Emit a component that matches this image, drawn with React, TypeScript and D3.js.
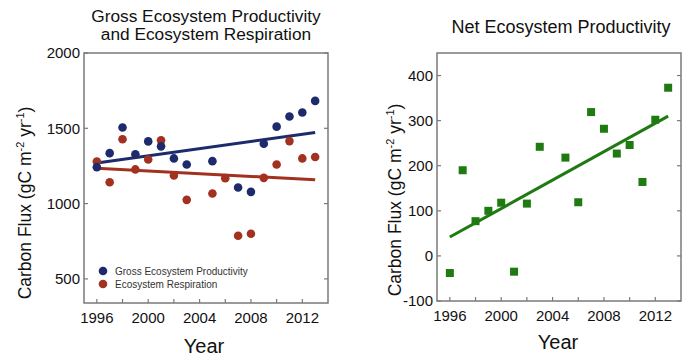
import React from "react";
import * as d3 from "d3";

// values
const gepYears = [1996, 1997, 1998, 1999, 2000, 2001, 2002, 2003, 2005, 2007, 2008, 2009, 2010, 2011, 2012, 2013];
const gepValues = [1242, 1335, 1505, 1327, 1413, 1380, 1300, 1260, 1282, 1107, 1078, 1398, 1511, 1578, 1605, 1682];

const erYears = [1996, 1997, 1998, 1999, 2000, 2001, 2002, 2003, 2005, 2006, 2007, 2008, 2009, 2010, 2011, 2012, 2013];
const erValues = [1280, 1142, 1427, 1227, 1293, 1420, 1187, 1025, 1067, 1169, 787, 800, 1171, 1260, 1415, 1300, 1309];

const nepYears = [1996, 1997, 1998, 1999, 2000, 2001, 2002, 2003, 2005, 2006, 2007, 2008, 2009, 2010, 2011, 2012, 2013];
const nepValues = [-38, 190, 77, 100, 118, -35, 116, 242, 218, 119, 319, 282, 227, 246, 164, 302, 373];

// trend line end points [1996, 2013]
const trendYears = [1996, 2013];
const gepTrend = [1269, 1472];
const erTrend = [1235, 1158];
const nepTrend = [42, 310];

const xTicks = [1996, 2000, 2004, 2008, 2012];
const xMinorTicks = [1996, 1998, 2000, 2002, 2004, 2006, 2008, 2010, 2012];
const leftYTicks = [500, 1000, 1500, 2000];
const rightYTicks = [-100, 0, 100, 200, 300, 400];

const BLUE = "#1d2b6c";
const RED = "#a3311f";
const GREEN = "#1f7a12";
const FRAME = "#7a7a7a";
const FONT = "Arial, 'Liberation Sans', sans-serif";

function Panel({ x0, x1, y0, y1, yDomain, yTicks, children }) {
  const x = d3.scaleLinear().domain([1995, 2014]).range([x0, x1]);
  const y = d3.scaleLinear().domain(yDomain).range([y1, y0]);
  return (
    <g>
      <rect x={x0} y={y0} width={x1 - x0} height={y1 - y0} fill="white" stroke={FRAME} strokeWidth={1.5} />
      {yTicks.map((t) => (
        <g key={"y" + t}>
          <line x1={x0} x2={x0 + 4} y1={y(t)} y2={y(t)} stroke={FRAME} strokeWidth={1.2} />
          <line x1={x1 - 4} x2={x1} y1={y(t)} y2={y(t)} stroke={FRAME} strokeWidth={1.2} />
          <text x={x0 - 4} y={y(t)} dy="0.35em" textAnchor="end" fontSize={15} fontFamily={FONT} fill="#111">
            {t}
          </text>
        </g>
      ))}
      {xMinorTicks.map((t) => (
        <line key={"xm" + t} x1={x(t)} x2={x(t)} y1={y1} y2={y1 - 4} stroke={FRAME} strokeWidth={1.2} />
      ))}
      {xTicks.map((t) => (
        <text key={"x" + t} x={x(t)} y={y1 + 20} textAnchor="middle" fontSize={15} fontFamily={FONT} fill="#111">
          {t}
        </text>
      ))}
      {children(x, y)}
    </g>
  );
}

function YLabel({ cx, cy }) {
  return (
    <text
      transform={`translate(${cx},${cy}) rotate(-90)`}
      textAnchor="middle"
      fontSize={17.5}
      fontFamily={FONT}
      fill="#111"
    >
      Carbon Flux (gC m
      <tspan fontSize={11} dy={-7}>-2</tspan>
      <tspan dy={7}> yr</tspan>
      <tspan fontSize={11} dy={-7}>-1</tspan>
      <tspan dy={7}>)</tspan>
    </text>
  );
}

export default function App() {
  const trendLine = (x, y, vals) =>
    d3.line().x((d, i) => x(trendYears[i])).y((d) => y(d))(vals);

  return (
    <svg width={700} height={363} style={{ position: "absolute", left: 0, top: 0, background: "white" }}>
      {/* left panel */}
      <text x={206} y={21.5} textAnchor="middle" fontSize={17.3} fontFamily={FONT} fill="#111">
        Gross Ecosystem Productivity
      </text>
      <text x={206} y={40} textAnchor="middle" fontSize={17.3} fontFamily={FONT} fill="#111">
        and Ecosystem Respiration
      </text>
      <YLabel cx={31} cy={203} />
      <text x={204} y={353} textAnchor="middle" fontSize={20} fontFamily={FONT} fill="#111">
        Year
      </text>
      <Panel x0={84} x1={328} y0={53} y1={303} yDomain={[340, 2000]} yTicks={leftYTicks}>
        {(x, y) => (
          <g>
            <path d={trendLine(x, y, gepTrend)} stroke={BLUE} strokeWidth={3} fill="none" />
            <path d={trendLine(x, y, erTrend)} stroke={RED} strokeWidth={3} fill="none" />
            {erYears.map((yr, i) => (
              <circle key={"er" + yr} cx={x(yr)} cy={y(erValues[i])} r={4.3} fill={RED} />
            ))}
            {gepYears.map((yr, i) => (
              <circle key={"gep" + yr} cx={x(yr)} cy={y(gepValues[i])} r={4.3} fill={BLUE} />
            ))}
            <circle cx={103} cy={271} r={4.3} fill={BLUE} />
            <circle cx={103} cy={284} r={4.3} fill={RED} />
            <text x={115} y={274.5} fontSize={10} fontFamily={FONT} fill="#333">
              Gross Ecosystem Productivity
            </text>
            <text x={115} y={287.5} fontSize={10} fontFamily={FONT} fill="#333">
              Ecosystem Respiration
            </text>
          </g>
        )}
      </Panel>

      {/* right panel */}
      <text x={561} y={33} textAnchor="middle" fontSize={18} fontFamily={FONT} fill="#111">
        Net Ecosystem Productivity
      </text>
      <YLabel cx={401} cy={200} />
      <text x={558} y={349} textAnchor="middle" fontSize={20} fontFamily={FONT} fill="#111">
        Year
      </text>
      <Panel x0={437} x1={681} y0={53} y1={301} yDomain={[-100, 450]} yTicks={rightYTicks}>
        {(x, y) => (
          <g>
            <path d={trendLine(x, y, nepTrend)} stroke={GREEN} strokeWidth={3} fill="none" />
            {nepYears.map((yr, i) => (
              <rect key={"nep" + yr} x={x(yr) - 4} y={y(nepValues[i]) - 4} width={8} height={8} fill={GREEN} />
            ))}
          </g>
        )}
      </Panel>
    </svg>
  );
}
